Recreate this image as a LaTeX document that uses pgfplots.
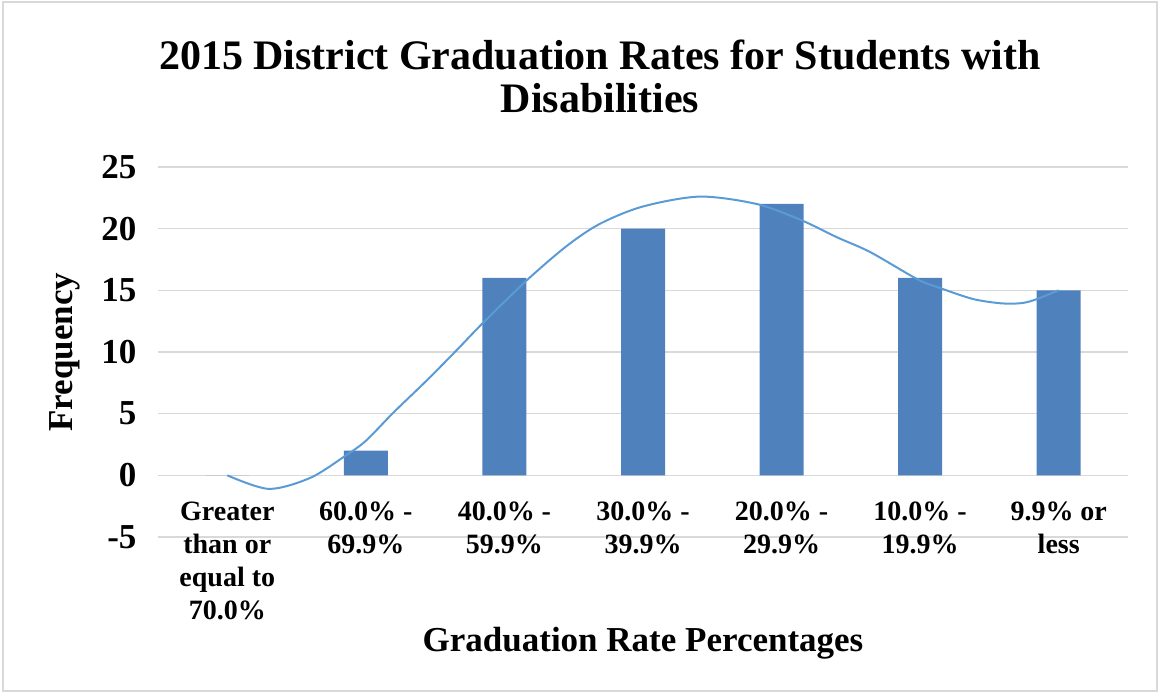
\documentclass[border=0pt]{standalone}
\usepackage{fontspec}
\setmainfont{Liberation Serif}
\usepackage{pgfplots}
\pgfplotsset{compat=1.18}
\definecolor{barblue}{RGB}{79,129,189}
\definecolor{lineblue}{RGB}{91,155,213}
\definecolor{gridgray}{RGB}{217,217,217}

\begin{document}
\begin{tikzpicture}
\path[use as bounding box] (0,0) rectangle (1160pt,696pt);
\draw[gridgray, line width=1.5pt] (3pt,5pt) rectangle (1157pt,694pt);
\begin{axis}[
  at={(158pt,159pt)}, anchor=south west,
  scale only axis, width=970pt, height=370pt,
  xmin=-0.5, xmax=6.5, ymin=-5, ymax=25,
  ytick={-5,0,5,10,15,20,25},
  yticklabels={-5,0,5,10,15,20,25},
  xtick={0,...,6},
  xticklabels={{Greater\\than or\\equal to\\70.0\%}, {60.0\% -\\69.9\%}, {40.0\% -\\59.9\%}, {30.0\% -\\39.9\%}, {20.0\% -\\29.9\%}, {10.0\% -\\19.9\%}, {9.9\% or\\less}},
  x tick label style={align=center, yshift=39pt,
    font=\fontsize{28}{33}\selectfont\bfseries},
  y tick label style={xshift=-18pt, font=\fontsize{35}{40}\selectfont\bfseries},
  axis line style={draw=none},
  major tick style={draw=none},
  ymajorgrids, grid style={gridgray, line width=1.5pt},
  title={2015 District Graduation Rates for Students with\\Disabilities},
  title style={at={(axis description cs:0.4557,1.2297)}, anchor=center, align=center,
    font=\fontsize{42}{43}\selectfont\bfseries},
  xlabel={Graduation Rate Percentages},
  xlabel style={at={(axis description cs:0.5,-0.2865)}, anchor=center,
    font=\fontsize{35}{40}\selectfont\bfseries},
  ylabel={Frequency},
  ylabel style={at={(axis description cs:-0.0959,0.5)}, anchor=center, rotate=0,
    font=\fontsize{35}{40}\selectfont\bfseries},
]
\addplot[ybar, bar width=44pt, bar shift=0pt, fill=barblue, draw=none]
  coordinates {(0,0) (1,2) (2,16) (3,20) (4,22) (5,16) (6,15)};
% fitted curve
\addplot[lineblue, line width=2pt, smooth, no marks]
  coordinates {(0,0) (0.30,-1.1) (0.6,-0.2) (0.85,1.57) (1.0,2.8) (1.2,5.1)
    (1.44,7.7) (1.66,10.2) (1.84,12.3) (2.16,15.8)
    (2.45,18.6) (2.69,20.4) (3.0,21.8) (3.41,22.6) (3.82,22.0) (4.14,20.7)
    (4.40,19.3) (4.64,18.1) (4.98,15.9) (5.14,15.2) (5.38,14.3) (5.58,13.95)
    (5.72,13.95) (5.82,14.2) (6.0,15.0)};
\end{axis}
\end{tikzpicture}
\end{document}
